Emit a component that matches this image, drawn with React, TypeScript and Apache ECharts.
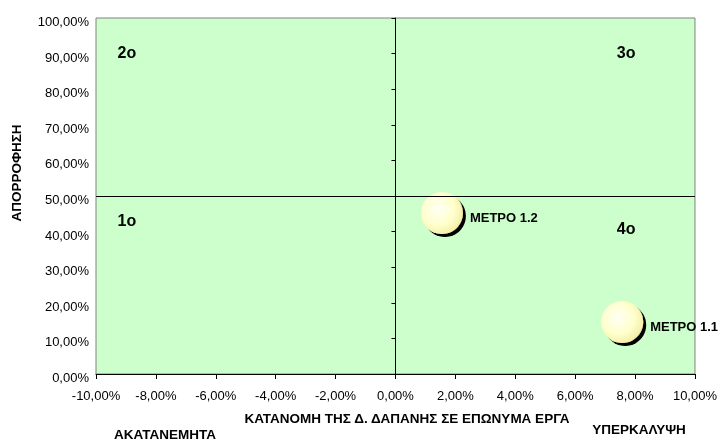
import React, { useEffect, useRef } from "react";
import * as echarts from "echarts";

const FONT = 'Arial, "Liberation Sans", Helvetica, sans-serif';

// Bubble data: [x (%), y (%)]
const bubbleNames = ["ΜΕΤΡΟ 1.2", "ΜΕΤΡΟ 1.1"];
const bubbleX = [1.55, 7.57];
const bubbleY = [45.2, 14.6];

// Quadrant annotations
const quadrantNames = ["2ο", "3ο", "1ο", "4ο"];
const quadrantX = [-8.97, 7.7, -8.97, 7.7];
const quadrantY = [90.3, 90.3, 43.1, 41.0];

const xMin = -10;
const xMax = 10;
const xInterval = 2;
const yMin = 0;
const yMax = 100;
const yInterval = 10;
const splitLevel = 50;

const xTitle = "ΚΑΤΑΝΟΜΗ ΤΗΣ Δ. ΔΑΠΑΝΗΣ ΣΕ ΕΠΩΝΥΜΑ ΕΡΓΑ";
const yTitle = "ΑΠΟΡΡΟΦΗΣΗ";
const leftNote = "ΑΚΑΤΑΝΕΜΗΤΑ";
const rightNote = "ΥΠΕΡΚΑΛΥΨΗ";

const fmt = (v: number) => v.toFixed(2).replace(".", ",") + "%";

export default function App() {
  const ref = useRef<HTMLDivElement>(null);
  useEffect(() => {
    if (!ref.current) return;
    const chart = echarts.init(ref.current, null, { renderer: "svg" });
    const bubbleData = bubbleNames.map((n, i) => ({ name: n, value: [bubbleX[i], bubbleY[i]] }));
    const quadData = quadrantNames.map((n, i) => ({ name: n, value: [quadrantX[i], quadrantY[i]] }));
    const boldFont = `bold 13.5px ${FONT}`;
    chart.setOption({
      animation: false,
      textStyle: { fontFamily: FONT },
      grid: [
        {
          left: 96,
          top: 18,
          right: 23,
          bottom: 67,
          show: true,
          backgroundColor: "#CCFFCC",
          borderColor: "#808080",
          borderWidth: 1,
        },
        {
          // label-only grid, shifted slightly down like the original's tick labels
          left: 96,
          top: 21.5,
          right: 23,
          bottom: 63.5,
          show: false,
        },
      ],
      xAxis: [
        {
          type: "value",
          gridIndex: 0,
          min: xMin,
          max: xMax,
          interval: xInterval,
          axisLine: { show: true, onZero: false, lineStyle: { color: "#000", width: 1 } },
          axisTick: { show: true, length: 5, lineStyle: { color: "#000" } },
          axisLabel: { color: "#000", fontSize: 13, fontFamily: FONT, margin: 15, formatter: fmt },
          splitLine: { show: false },
        },
        {
          type: "value",
          gridIndex: 1,
          min: xMin,
          max: xMax,
          interval: xInterval,
          show: false,
        },
      ],
      yAxis: [
        {
          type: "value",
          gridIndex: 0,
          min: yMin,
          max: yMax,
          interval: yInterval,
          position: "left",
          axisLine: { show: true, onZero: true, lineStyle: { color: "#000", width: 1 } },
          axisTick: { show: true, length: 4, lineStyle: { color: "#000" } },
          axisLabel: { show: false },
          splitLine: { show: false },
        },
        {
          type: "value",
          gridIndex: 1,
          min: yMin,
          max: yMax,
          interval: yInterval,
          axisLine: { show: false, onZero: false },
          axisTick: { show: false },
          axisLabel: {
            color: "#000",
            fontSize: 13,
            fontFamily: FONT,
            margin: 7,
            formatter: fmt,
          },
          splitLine: { show: false },
        },
      ],
      series: [
        {
          type: "scatter",
          xAxisIndex: 0,
          yAxisIndex: 0,
          data: [],
          markLine: {
            silent: true,
            symbol: "none",
            label: { show: false },
            lineStyle: { color: "#000", width: 1, type: "solid", opacity: 1 },
            data: [{ yAxis: splitLevel }],
          },
        },
        {
          type: "scatter",
          xAxisIndex: 0,
          yAxisIndex: 0,
          symbolSize: 0,
          data: quadData,
          itemStyle: { opacity: 1 },
          label: {
            show: true,
            position: "inside",
            formatter: "{b}",
            color: "#000",
            opacity: 1,
            fontSize: 16,
            fontWeight: "bold",
            fontFamily: FONT,
          },
          silent: true,
        },
        {
          type: "scatter",
          xAxisIndex: 0,
          yAxisIndex: 0,
          symbol: "circle",
          symbolSize: 42,
          data: bubbleData,
          itemStyle: {
            color: new echarts.graphic.RadialGradient(0.4, 0.4, 0.65, [
              { offset: 0, color: "#FFFFF4" },
              { offset: 0.6, color: "#FFFFCC" },
              { offset: 1, color: "#F2EDA6" },
            ]),
            shadowColor: "#000",
            shadowOffsetX: 3,
            shadowOffsetY: 3,
            shadowBlur: 0,
            opacity: 1,
          },
          label: {
            show: true,
            position: "right",
            distance: 7,
            offset: [0, 4],
            formatter: "{b}",
            color: "#000",
            opacity: 1,
            fontSize: 13,
            fontWeight: "bold",
            fontFamily: FONT,
          },
        },
      ],
      graphic: [
        {
          type: "text",
          x: 407,
          y: 418,
          style: { text: xTitle, fill: "#000", font: boldFont, align: "center", verticalAlign: "middle" },
        },
        {
          type: "text",
          x: 16,
          y: 173,
          rotation: Math.PI / 2,
          style: {
            text: yTitle,
            fill: "#000",
            font: boldFont,
            align: "center",
            verticalAlign: "middle",
          },
        },
        {
          type: "text",
          x: 165,
          y: 441,
          style: { text: leftNote, fill: "#000", font: boldFont, align: "center", verticalAlign: "bottom" },
        },
        {
          type: "text",
          x: 639,
          y: 429,
          style: { text: rightNote, fill: "#000", font: boldFont, align: "center", verticalAlign: "middle" },
        },
      ],
    });
    return () => chart.dispose();
  }, []);
  return <div ref={ref} style={{ position: "fixed", left: 0, top: 0, width: 720, height: 441 }} />;
}
